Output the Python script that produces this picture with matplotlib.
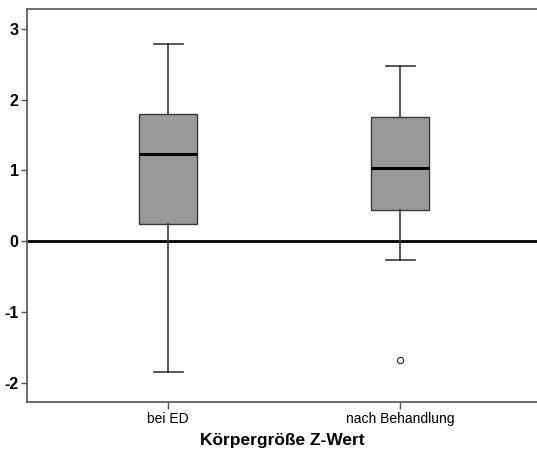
"""Boxplot of Z-scores for body height at two time points."""

import matplotlib
matplotlib.use("Agg")
import matplotlib.pyplot as plt


GROUPS = ["bei ED", "nach Behandlung"]
WHISKER_LOW = [-1.84, -0.26]
Q1 = [0.24, 0.44]
MEDIAN = [1.24, 1.04]
Q3 = [1.80, 1.76]
WHISKER_HIGH = [2.78, 2.48]
OUTLIERS = [[], [-1.68]]

Y_TICKS = [-2, -1, 0, 1, 2, 3]
X_LABEL = "Körpergröße Z-Wert"

plt.rcParams["font.family"] = ["Liberation Sans", "DejaVu Sans"]


def main():
    fig = plt.figure(figsize=(5.37, 4.59), dpi=100)
    ax = fig.add_axes([0.0503, 0.1242, 0.9497, 0.856])

    stats = []
    for i, name in enumerate(GROUPS):
        stats.append({
            "label": name,
            "whislo": WHISKER_LOW[i],
            "q1": Q1[i],
            "med": MEDIAN[i],
            "q3": Q3[i],
            "whishi": WHISKER_HIGH[i],
            "fliers": OUTLIERS[i],
        })

    edge = "#3a3a3a"
    ax.axhline(0, color="black", linewidth=2, zorder=1)
    ax.bxp(
        stats,
        positions=[1, 2],
        widths=0.25,
        patch_artist=True,
        boxprops=dict(facecolor="#999999", edgecolor=edge, linewidth=1),
        medianprops=dict(color="black", linewidth=2.2),
        whiskerprops=dict(color=edge, linewidth=1.2),
        capprops=dict(color=edge, linewidth=1.2),
        capwidths=0.125,
        flierprops=dict(marker="o", markersize=4.5, markerfacecolor="white",
                        markeredgecolor=edge, markeredgewidth=0.9),
        zorder=2,
    )

    ax.set_xlim(0.392, 2.59)
    ax.set_ylim(-2.27, 3.28)
    ax.set_yticks(Y_TICKS)
    ax.set_yticklabels([str(t) for t in Y_TICKS], fontsize=11.5, fontweight="bold")
    ax.set_xticks([1, 2])
    ax.set_xticklabels(GROUPS, fontsize=10)
    ax.set_xlabel(X_LABEL, fontsize=12.5, fontweight="bold", labelpad=5)

    for side in ("left", "bottom", "top"):
        ax.spines[side].set_color("#555555")
        ax.spines[side].set_linewidth(1.2)
    ax.spines["right"].set_visible(False)
    ax.tick_params(axis="y", length=4, width=1, color="#555555", pad=2)
    ax.tick_params(axis="x", length=5, width=1, color="#555555", pad=2.5)

    fig.savefig("out.png", dpi=100)
    plt.close(fig)


if __name__ == "__main__":
    main()
